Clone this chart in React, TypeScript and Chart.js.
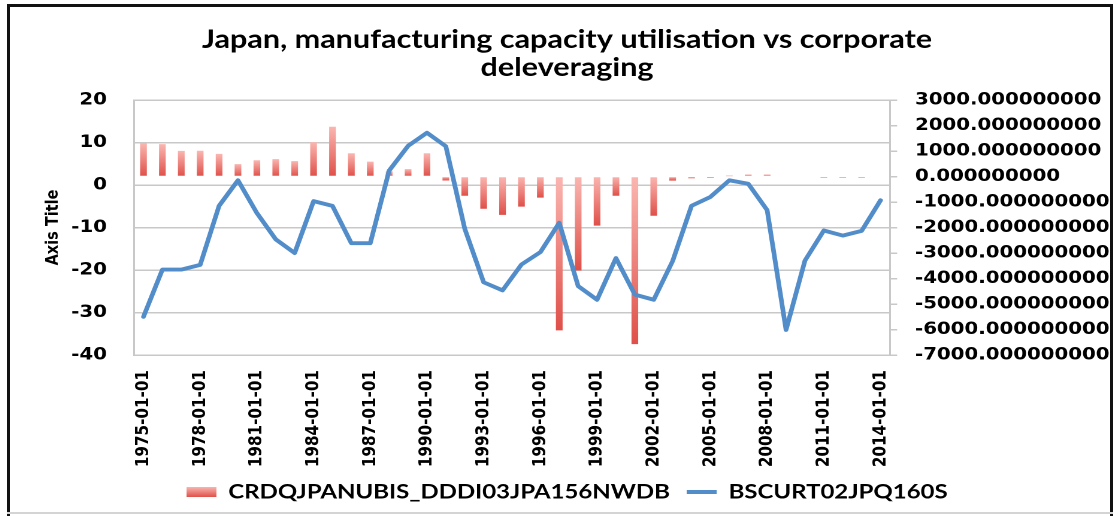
import React, { useEffect, useRef } from 'react';
import { Chart, registerables } from 'chart.js';

Chart.register(...registerables);

const categories = [
  '1975-01-01', '1976-01-01', '1977-01-01', '1978-01-01', '1979-01-01',
  '1980-01-01', '1981-01-01', '1982-01-01', '1983-01-01', '1984-01-01',
  '1985-01-01', '1986-01-01', '1987-01-01', '1988-01-01', '1989-01-01',
  '1990-01-01', '1991-01-01', '1992-01-01', '1993-01-01', '1994-01-01',
  '1995-01-01', '1996-01-01', '1997-01-01', '1998-01-01', '1999-01-01',
  '2000-01-01', '2001-01-01', '2002-01-01', '2003-01-01', '2004-01-01',
  '2005-01-01', '2006-01-01', '2007-01-01', '2008-01-01', '2009-01-01',
  '2010-01-01', '2011-01-01', '2012-01-01', '2013-01-01', '2014-01-01',
];

// CRDQJPANUBIS_DDDI03JPA156NWDB (right axis, bars)
const creditValues: (number | null)[] = [
  1300, 1270, 1005, 1010, 885, 487, 637, 683, 605, 1343,
  1950, 910, 585, 206, 291, 910, -155, -755, -1265, -1505,
  -1180, -828, -6035, -3685, -1925, -755, -6575, -1540, -160, -70,
  -55, 15, 80, 80, -30, -30, -50, -50, -50, null,
];

// BSCURT02JPQ160S (left axis, line)
const capacityValues = [
  -31, -19.9, -19.9, -18.8, -4.9, 1.1, -6.6, -12.8, -16, -3.8,
  -4.9, -13.7, -13.7, 3.4, 9.2, 12.3, 9.1, -10.3, -22.9, -24.8,
  -18.7, -15.8, -8.9, -23.8, -27, -17.2, -25.8, -27, -17.9, -4.9,
  -2.8, 1.1, 0.3, -5.9, -34.1, -17.8, -10.7, -11.9, -10.8, -3.6,
];

const leftAxisTicks = [-40, -30, -20, -10, 0, 10, 20];
const rightAxisTicks = [-7000, -6000, -5000, -4000, -3000, -2000, -1000, 0, 1000, 2000, 3000];

const titleLines = ['Japan, manufacturing capacity utilisation vs corporate', 'deleveraging'];
const barSeriesName = 'CRDQJPANUBIS_DDDI03JPA156NWDB';
const lineSeriesName = 'BSCURT02JPQ160S';
const leftAxisTitle = 'Axis Title';

const STRETCH = 1.198;
const W = 920;
const H = 504;

const BAR_TOP = '#fbb6b1';
const BAR_BOTTOM = '#df5049';
const BAR_SOLID = '#e86a64';
const LINE_COLOR = '#528dca';
const GRID = '#c8c8c8';

export default function App() {
  const ref = useRef<HTMLCanvasElement>(null);

  useEffect(() => {
    const canvas = ref.current;
    if (!canvas) return;

    const swatch = document.createElement('canvas');
    swatch.width = 25;
    swatch.height = 10;
    const sctx = swatch.getContext('2d');
    if (sctx) {
      const sg = sctx.createLinearGradient(0, 0, 0, 10);
      sg.addColorStop(0, BAR_TOP);
      sg.addColorStop(1, BAR_BOTTOM);
      sctx.fillStyle = sg;
      sctx.fillRect(0, 0, 25, 10);
    }

    const tickFont = { family: 'DejaVu Sans', weight: 'bold' as const, size: 16.5 };

    const chart = new Chart(canvas, {
      type: 'bar',
      data: {
        labels: categories,
        datasets: [
          {
            type: 'bar',
            label: barSeriesName,
            data: creditValues,
            yAxisID: 'y2',
            order: 1,
            barPercentage: 0.355,
            categoryPercentage: 1,
            borderWidth: 0,
            backgroundColor: (c: any) => {
              if (c.type !== 'data') return BAR_SOLID;
              const ch = c.chart;
              const sc = ch.scales && ch.scales.y2;
              if (!sc || c.raw == null) return BAR_SOLID;
              const yv = sc.getPixelForValue(c.raw);
              const y0 = sc.getPixelForValue(0);
              const top = Math.min(yv, y0);
              const bot = Math.max(yv, y0);
              if (bot - top < 1) return BAR_SOLID;
              const g = ch.ctx.createLinearGradient(0, top, 0, bot);
              g.addColorStop(0, BAR_TOP);
              g.addColorStop(1, BAR_BOTTOM);
              return g;
            },
          } as any,
          {
            type: 'line',
            label: lineSeriesName,
            data: capacityValues,
            yAxisID: 'y',
            order: 0,
            borderColor: LINE_COLOR,
            backgroundColor: LINE_COLOR,
            borderWidth: 3.9,
            pointRadius: 0,
            pointHoverRadius: 0,
            tension: 0,
            borderJoinStyle: 'round',
            borderCapStyle: 'round',
            fill: false,
          } as any,
        ],
      },
      options: {
        responsive: false,
        animation: false,
        devicePixelRatio: 2,
        layout: { padding: { left: 13.2, right: 0, top: 0, bottom: 0 } },
        plugins: {
          tooltip: { enabled: false },
          title: {
            display: true,
            text: titleLines,
            color: '#000',
            font: { family: 'Lato', weight: 'bold', size: 25.5, lineHeight: 28 / 25.5 },
            padding: { top: 18, bottom: 18 },
          },
          legend: {
            display: true,
            position: 'bottom',
            labels: {
              usePointStyle: true,
              pointStyleWidth: 25,
              padding: 14,
              color: '#000',
              font: { family: 'Lato', weight: 'bold', size: 20 },
              generateLabels: () => [
                {
                  text: barSeriesName,
                  pointStyle: swatch,
                  fillStyle: BAR_SOLID,
                  strokeStyle: BAR_SOLID,
                  lineWidth: 0,
                  hidden: false,
                  datasetIndex: 0,
                  fontColor: '#000',
                } as any,
                {
                  text: lineSeriesName,
                  pointStyle: 'line',
                  fillStyle: LINE_COLOR,
                  strokeStyle: LINE_COLOR,
                  lineWidth: 3.9,
                  hidden: false,
                  datasetIndex: 1,
                  fontColor: '#000',
                } as any,
              ],
            },
          },
        },
        scales: {
          x: {
            type: 'category',
            offset: true,
            grid: { display: false, drawTicks: false },
            border: { display: true, color: GRID, width: 1.5 },
            ticks: {
              autoSkip: false,
              minRotation: 90,
              maxRotation: 90,
              padding: 15,
              color: '#000',
              font: { family: 'DejaVu Sans', weight: 'bold', size: 15.2 },
              callback: function (this: any, v: any, i: number) {
                return i % 3 === 0 ? categories[i] : '';
              },
            },
            afterFit: (s: any) => {
              s.height = 113;
            },
          },
          y: {
            position: 'left',
            min: leftAxisTicks[0],
            max: leftAxisTicks[leftAxisTicks.length - 1],
            afterBuildTicks: (s: any) => {
              s.ticks = leftAxisTicks.map((v) => ({ value: v }));
            },
            grid: { color: GRID, lineWidth: 1.5, drawTicks: false },
            border: { display: true, color: GRID, width: 1.5 },
            ticks: {
              padding: 22.6,
              color: '#000',
              font: tickFont,
            },
            title: {
              display: true,
              text: leftAxisTitle,
              color: '#000',
              font: { family: 'DejaVu Sans', weight: 'bold', size: 14.5, lineHeight: 1.2 },
              padding: { top: 15.7, bottom: 0 },
            },
            afterFit: (s: any) => {
              s.width = 92;
            },
          },
          y2: {
            position: 'right',
            min: rightAxisTicks[0],
            max: rightAxisTicks[rightAxisTicks.length - 1],
            afterBuildTicks: (s: any) => {
              s.ticks = rightAxisTicks.map((v) => ({ value: v }));
            },
            grid: { drawOnChartArea: false, drawTicks: true, tickLength: 6, color: GRID, lineWidth: 1.5 },
            border: { display: true, color: GRID, width: 1.5 },
            ticks: {
              padding: 14.9,
              color: '#000',
              font: tickFont,
              callback: (v: any) => Number(v).toFixed(9),
            },
            afterFit: (s: any) => {
              s.width = 183.8;
            },
          },
        },
      } as any,
    });

    return () => chart.destroy();
  }, []);

  return (
    <div
      style={{
        position: 'fixed',
        left: 0,
        top: 0,
        width: 1118,
        height: 516,
        background: '#fff',
        overflow: 'hidden',
      }}
    >
      <div style={{ position: 'absolute', left: 7, top: 4, width: 1106, height: 3, background: '#111' }} />
      <div style={{ position: 'absolute', left: 7, top: 4, width: 3, height: 512, background: '#111' }} />
      <div style={{ position: 'absolute', left: 1110, top: 4, width: 3, height: 512, background: '#111' }} />
      <div style={{ position: 'absolute', left: 7, top: 512, width: 1106, height: 2, background: '#d4d4d4' }} />
      <canvas
        ref={ref}
        width={W}
        height={H}
        style={{
          position: 'absolute',
          left: 8,
          top: 8,
          width: W,
          height: H,
          transform: `scaleX(${STRETCH})`,
          transformOrigin: '0 0',
        }}
      />
    </div>
  );
}
